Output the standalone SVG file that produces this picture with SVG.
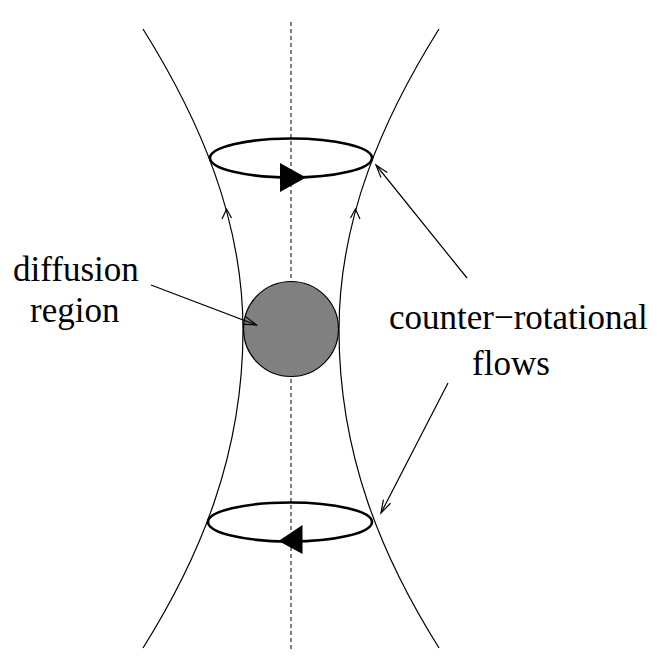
<svg xmlns="http://www.w3.org/2000/svg" width="657" height="659" viewBox="0 0 657 659">
<defs>
<style>
.thin{fill:none;stroke:#000;stroke-width:1.2}
.loop{fill:none;stroke:#000;stroke-width:2.6}
.lbl{font-family:"Liberation Serif","Times New Roman",serif;font-size:35px;fill:#000}
</style>
<marker id="open" markerUnits="userSpaceOnUse" viewBox="-14 -6 16 12" refX="0" refY="0" markerWidth="16" markerHeight="12" orient="auto" overflow="visible">
<path d="M-13,-4 L0,0 L-13,4" fill="none" stroke="#000" stroke-width="1.2"/>
</marker>
</defs>
<rect width="657" height="659" fill="#fff"/>
<line x1="291" y1="22" x2="291" y2="652" stroke="#000" stroke-width="1" stroke-dasharray="4,3"/>
<g id="field-lines">
<path class="thin" d="M143,29 C200,120 243,220 243,330 C243,455 200,557 143,648"/>
<path class="thin" d="M439,29 C382,120 339,220 339,330 C339,455 382,557 439,648"/>
<path class="thin" d="M222,219 L226.6,209 L231.5,218"/>
<path class="thin" d="M350.5,218 L355.4,209 L360,219"/>
</g>
<g id="diffusion-region">
<circle cx="291" cy="329" r="47.5" fill="#808080" stroke="#000" stroke-width="1.2"/>
</g>
<g id="upper-flow">
<ellipse class="loop" cx="291" cy="158" rx="81" ry="19.5"/>
<path d="M280,163 L306,177.5 L280,192 Z" fill="#000"/>
</g>
<g id="lower-flow">
<ellipse class="loop" cx="290" cy="522" rx="82" ry="19.5"/>
<path d="M302.5,525 L278.5,541 L302.5,554 Z" fill="#000"/>
</g>
<g id="label-diffusion">
<text class="lbl" x="13" y="281">diffusion</text>
<text class="lbl" x="30" y="322">region</text>
</g>
<g id="label-flows">
<text class="lbl" x="389" y="329">counter−rotational</text>
<text class="lbl" x="472" y="375">flows</text>
</g>
<g id="connectors">
<line class="thin" x1="151" y1="285" x2="256.5" y2="325" marker-end="url(#open)"/>
<line class="thin" x1="467" y1="278" x2="376" y2="165" marker-end="url(#open)"/>
<line class="thin" x1="448" y1="383" x2="381" y2="513" marker-end="url(#open)"/>
</g>
</svg>
